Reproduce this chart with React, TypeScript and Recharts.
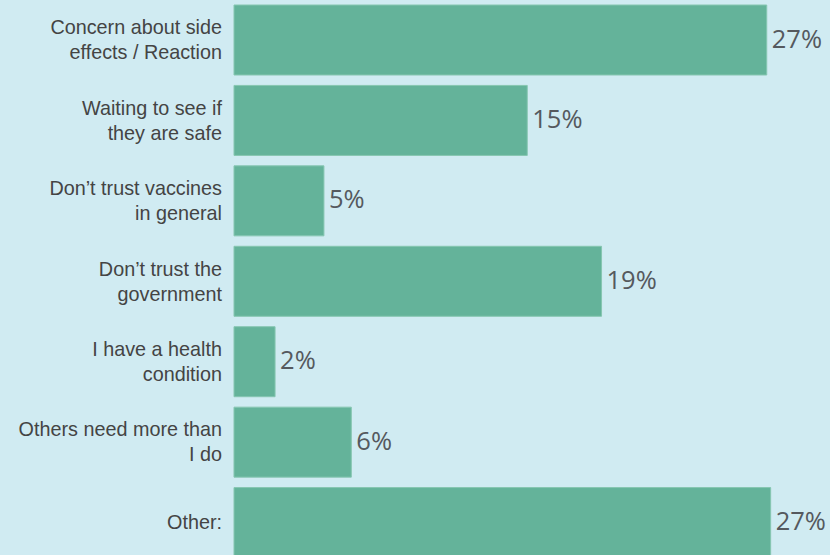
import { Bar, BarChart, LabelList, XAxis, YAxis } from "recharts";

const categories = [
  "Concern about side\neffects / Reaction",
  "Waiting to see if\nthey are safe",
  "Don’t trust vaccines\nin general",
  "Don’t trust the\ngovernment",
  "I have a health\ncondition",
  "Others need more than\nI do",
  "Other:",
];
const shares = [27.25, 15, 4.6, 18.8, 2.1, 6.0, 27.45];
const xDomain = [0, 30];

const data = categories.map((name, i) => ({ name, share: shares[i] }));

const BG = "#d0ebf2";
const BAR = "#64b39a";

const CategoryTick = (props: any) => {
  const { x, y, payload } = props;
  const lines = String(payload.value).split("\n");
  const gap = 25;
  const first = y - ((lines.length - 1) * gap) / 2 + 6.6;
  return (
    <text
      x={x}
      y={first}
      textAnchor="end"
      fill="#444"
      fontSize={19.8}
      fontFamily="'Liberation Sans', Arial, sans-serif"
    >
      {lines.map((line, i) => (
        <tspan key={i} x={x} y={first + i * gap}>
          {line}
        </tspan>
      ))}
    </text>
  );
};

const ValueLabel = (props: any) => {
  const { x, y, width, height, value } = props;
  return (
    <text
      x={x + width + 5}
      y={y + height / 2 - 2.5}
      dominantBaseline="central"
      fill="#55595e"
      fontSize={25.5}
      fontFamily="'Open Sans', sans-serif"
    >
      {Math.round(value)}%
    </text>
  );
};

export default function App() {
  return (
    <div style={{ position: "absolute", top: 0, left: 0, width: 830, height: 563, background: BG }}>
      <BarChart
        width={830}
        height={563}
        data={data}
        layout="vertical"
        margin={{ top: 0, right: 9.5, bottom: 0, left: 0 }}
      >
        <XAxis type="number" domain={xDomain} hide />
        <YAxis
          type="category"
          dataKey="name"
          width={234}
          axisLine={false}
          tickLine={false}
          tickSize={0}
          tickMargin={12}
          interval={0}
          tick={<CategoryTick />}
        />
        <Bar dataKey="share" fill={BAR} stroke="#86c6b1" strokeWidth={1} barSize={70} isAnimationActive={false}>
          <LabelList dataKey="share" content={<ValueLabel />} />
        </Bar>
      </BarChart>
    </div>
  );
}
